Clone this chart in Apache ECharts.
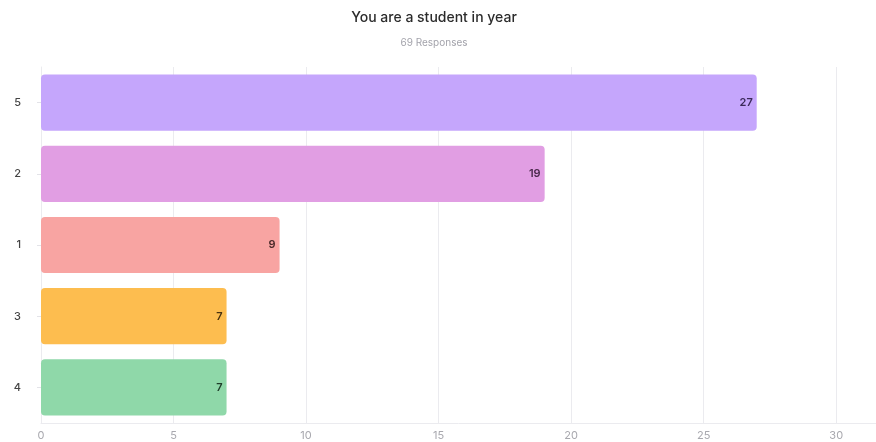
<!DOCTYPE html>
<html>
<head>
<meta charset="utf-8">
<script src="https://cdn.jsdelivr.net/npm/echarts@6/dist/echarts.min.js"></script>
<style>
  html, body { margin: 0; padding: 0; background: #fff; }
  #chart { width: 876px; height: 442px; }
</style>
</head>
<body>
<div id="chart"></div>
<script>
// Survey answers, listed top to bottom
const categories = ['5', '2', '1', '3', '4'];
const counts = [27, 19, 9, 7, 7];
const barColors = ['#c5a6fc', '#e19ee3', '#f8a4a2', '#fdbd4f', '#8fd8a9'];
const labelColors = ['#3b2a5a', '#4a2a4c', '#4a2a2a', '#4a3310', '#1f3d2a'];
const xTicks = [0, 5, 10, 15, 20, 25, 30];

const chart = echarts.init(document.getElementById('chart'));
chart.setOption({
  backgroundColor: '#ffffff',
  animation: false,
  title: {
    text: 'You are a student in year',
    subtext: '69 Responses',
    left: 429,
    textAlign: 'center',
    top: 6,
    itemGap: 13,
    textStyle: { fontFamily: 'Inter', fontSize: 14, fontWeight: 500, color: '#2b2b2b' },
    subtextStyle: { fontFamily: 'Inter', fontSize: 10, color: '#a3a3ab' }
  },
  grid: { left: 41, right: 0, top: 67, bottom: 19, containLabel: false },
  xAxis: {
    type: 'value',
    min: 0,
    max: 31.5,
    interval: 5,
    axisLine: { show: true, lineStyle: { color: '#ebebef', width: 1 } },
    axisTick: { show: false },
    splitLine: { show: true, lineStyle: { color: '#ebebef', width: 1 } },
    axisLabel: {
      fontFamily: 'Inter', fontSize: 11, color: '#a8a8ae', margin: 7,
      showMaxLabel: false,
      formatter: v => xTicks.includes(v) ? String(v) : ''
    }
  },
  yAxis: {
    type: 'category',
    data: categories,
    inverse: true,
    axisLine: { show: true, lineStyle: { color: '#ebebef' } },
    axisTick: { show: true, length: 4, alignWithLabel: true, lineStyle: { color: '#e3e3e8' } },
    axisLabel: { fontFamily: 'Inter', fontSize: 11, fontWeight: 500, color: '#444', margin: 20 }
  },
  series: [{
    type: 'bar',
    barCategoryGap: '21%',
    data: counts.map((v, i) => ({
      value: v,
      itemStyle: { color: barColors[i], borderRadius: 4 },
      label: { color: labelColors[i] }
    })),
    label: {
      show: true,
      position: 'insideRight',
      distance: 4,
      fontFamily: 'Inter',
      fontSize: 11,
      fontWeight: 600
    }
  }]
});
</script>
</body>
</html>
